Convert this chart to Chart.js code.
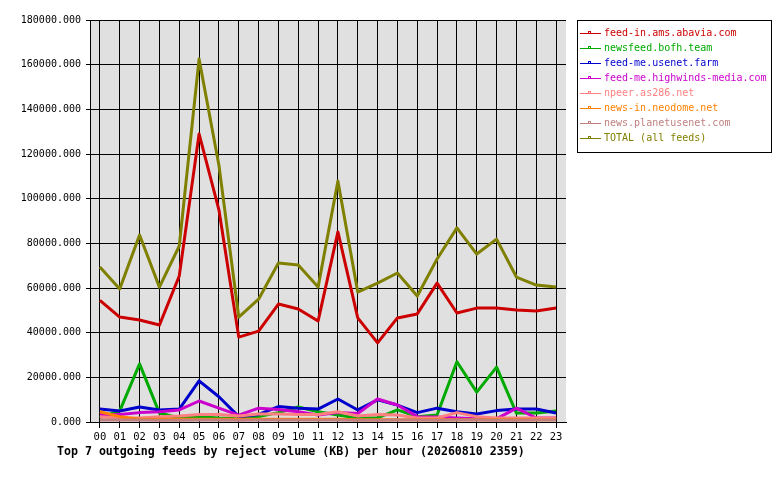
<!DOCTYPE html>
<html lang="en">
<head>
<meta charset="UTF-8">
<title>Outgoing feeds by reject volume</title>
<script src="https://cdn.jsdelivr.net/npm/chart.js@4.4.0/dist/chart.umd.min.js"></script>
<style>
  html, body { margin: 0; padding: 0; background: #fff; }
</style>
</head>
<body>
<canvas id="chart" width="780" height="480"></canvas>
<script>
// hours of the day
const hours = ['00','01','02','03','04','05','06','07','08','09','10','11',
               '12','13','14','15','16','17','18','19','20','21','22','23'];

const feedNames = ['feed-in.ams.abavia.com', 'newsfeed.bofh.team', 'feed-me.usenet.farm',
                   'feed-me.highwinds-media.com', 'npeer.as286.net', 'news-in.neodome.net',
                   'news.planetusenet.com', 'TOTAL (all feeds)'];
const feedColors = ['#cc0000', '#00aa00', '#0000cc', '#cc00cc', '#ff8080', '#ff8000', '#c08080', '#808000'];

// reject volume in KB per hour
const abavia    = [54500, 47000, 45700, 43400, 65400, 129000, 95000, 38000, 40700, 52800, 50600, 45200,
                   85100, 46600, 35400, 46600, 48400, 62200, 48800, 51000, 51000, 50200, 49700, 51000];
const bofh      = [2000, 5000, 26000, 4000, 1800, 2400, 1800, 1500, 2400, 4200, 6700, 4600,
                   3100, 1800, 1800, 5400, 2400, 3100, 27000, 13400, 24600, 4000, 4000, 4900];
const usenet    = [5800, 4900, 6700, 5400, 5800, 18400, 11300, 2400, 3400, 6900, 6200, 5800,
                   10300, 5400, 9900, 7600, 4200, 6200, 4600, 3600, 5100, 5800, 5800, 4000];
const highwinds = [3400, 3400, 4200, 4600, 5400, 9400, 6200, 3100, 6200, 5600, 4600, 3100,
                   4200, 3800, 10300, 7600, 2400, 2200, 1800, 1400, 1400, 6200, 1800, 1800];
const npeer     = [2400, 1800, 1800, 2400, 2700, 3400, 3400, 2700, 3600, 3600, 3400, 3400,
                   4600, 2700, 3400, 3100, 1800, 1800, 4200, 2400, 1800, 1800, 1800, 1800];
const neodome   = [4600, 2400, 1200, 1200, 1200, 1200, 1200, 1200, 1200, 1200, 1200, 1200,
                   1200, 1000, 1000, 1000, 1000, 1000, 1000, 1000, 1000, 1000, 1000, 1000];
const planet    = [900, 900, 900, 800, 800, 900, 900, 800, 900, 900, 900, 900,
                   900, 800, 800, 900, 900, 800, 900, 900, 800, 800, 900, 900];
const total     = [69400, 59600, 83700, 60400, 78800, 162500, 115000, 47000, 55000, 71200, 70300, 60400,
                   107900, 58200, 62200, 66700, 56400, 73000, 86900, 75200, 81900, 64900, 61300, 60400];

const series = [abavia, bofh, usenet, highwinds, npeer, neodome, planet, total];
const titleText = 'Top 7 outgoing feeds by reject volume (KB) per hour (20260810 2359)';
const mono = '"DejaVu Sans Mono", "Liberation Mono", monospace';

const datasets = series.map((values, i) => ({
    label: feedNames[i],
    data: values,
    borderColor: feedColors[i],
    backgroundColor: feedColors[i],
    borderWidth: 3,
    borderJoinStyle: 'round',
    pointRadius: 0,
    tension: 0,
    fill: false,
    order: series.length - i   // later feeds painted on top
}));

// grey plot background
const plotBackground = {
    id: 'plotBackground',
    beforeDraw(chart) {
        const { ctx, chartArea: a } = chart;
        ctx.save();
        ctx.fillStyle = '#e0e0e0';
        ctx.fillRect(a.left, a.top, a.right - a.left, a.bottom - a.top);
        ctx.restore();
    }
};

// boxed legend at the right and the caption under the axis
const sideLegend = {
    id: 'sideLegend',
    afterDraw(chart) {
        const ctx = chart.ctx;
        ctx.save();
        const x0 = 577, y0 = 20, w = 194, h = 132;
        ctx.fillStyle = '#fff';
        ctx.fillRect(x0, y0, w, h);
        ctx.strokeStyle = '#000';
        ctx.lineWidth = 1;
        ctx.strokeRect(x0 + 0.5, y0 + 0.5, w, h);
        ctx.font = '10px ' + mono;
        ctx.textBaseline = 'middle';
        chart.data.datasets.forEach((ds, i) => {
            const y = y0 + 13.5 + i * 15;
            ctx.strokeStyle = ds.borderColor;
            ctx.beginPath();
            ctx.moveTo(580, y);
            ctx.lineTo(601, y);
            ctx.stroke();
            ctx.strokeRect(588.5, y - 2, 2, 2);
            ctx.fillStyle = ds.borderColor;
            ctx.fillText(ds.label, 604, y);
        });

        ctx.fillStyle = '#000';
        ctx.font = 'bold 11.6px ' + mono;
        ctx.textBaseline = 'alphabetic';
        ctx.fillText(titleText, 57, 455);
        ctx.restore();
    }
};

new Chart(document.getElementById('chart'), {
    type: 'line',
    data: { labels: hours, datasets },
    options: {
        responsive: false,
        animation: false,
        devicePixelRatio: 1,
        layout: { padding: { top: 20, right: 214, left: 0, bottom: 0 } },
        plugins: {
            legend: { display: false },
            title: { display: false },
            tooltip: { enabled: false }
        },
        scales: {
            x: {
                offset: true,
                afterFit(scale) { scale.height = 58; },
                grid: { offset: false, color: '#000', lineWidth: 1, tickLength: 6 },
                border: { color: '#000' },
                ticks: { color: '#000', font: { family: mono, size: 10.5 }, padding: 3,
                         maxRotation: 0, autoSkip: false }
            },
            y: {
                min: 0,
                max: 180000,
                afterFit(scale) { scale.width = 90; },
                grid: { color: '#000', lineWidth: 1, tickLength: 4 },
                border: { color: '#000' },
                ticks: { stepSize: 20000, color: '#000', font: { family: mono, size: 10 }, padding: 5,
                         callback: v => v.toFixed(3) }
            }
        }
    },
    plugins: [plotBackground, sideLegend]
});
</script>
</body>
</html>
